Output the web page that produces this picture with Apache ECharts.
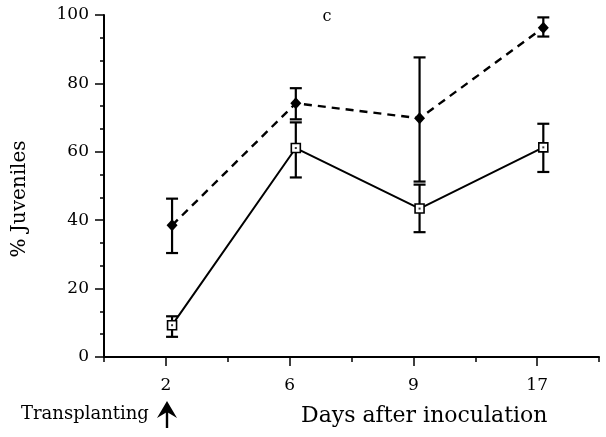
<!DOCTYPE html>
<html>
<head>
<meta charset="utf-8">
<script src="https://cdn.jsdelivr.net/npm/echarts@6/dist/echarts.min.js"></script>
<style>
html,body{margin:0;padding:0;background:#fff;}
#chart{width:606px;height:437px;}
</style>
</head>
<body>
<div id="chart"></div>
<script>
// ---- data ----
var days = ['2', '6', '9', '17'];
var dashedMean = [38.5, 74.2, 69.8, 96.3];
var dashedLow  = [30.4, 69.5, 51.3, 93.7];
var dashedHigh = [46.3, 78.6, 87.6, 99.3];
var solidMean  = [9.3, 61.1, 43.4, 61.3];
var solidLow   = [5.9, 52.5, 36.5, 54.1];
var solidHigh  = [11.9, 68.6, 50.4, 68.2];
var yTicks = [0, 20, 40, 60, 80, 100];

var FONT = 'DejaVu Serif';

function pts(arr) { return arr.map(function (v, i) { return [i, v]; }); }
function errData(lo, hi) { return lo.map(function (v, i) { return [i, v, hi[i]]; }); }

function errRender(params, api) {
  var x = api.value(0);
  var lo = api.coord([x, api.value(1)]);
  var hi = api.coord([x, api.value(2)]);
  var w = 6;
  var st = { stroke: '#000', lineWidth: 2.2 };
  return {
    type: 'group',
    children: [
      { type: 'line', shape: { x1: lo[0], y1: lo[1], x2: hi[0], y2: hi[1] }, style: st },
      { type: 'line', shape: { x1: lo[0] - w, y1: lo[1], x2: lo[0] + w, y2: lo[1] }, style: st },
      { type: 'line', shape: { x1: hi[0] - w, y1: hi[1], x2: hi[0] + w, y2: hi[1] }, style: st }
    ]
  };
}

var chart = echarts.init(document.getElementById('chart'));
chart.setOption({
  animation: false,
  backgroundColor: '#fff',
  grid: { left: 104, right: 7, top: 15, bottom: 80, containLabel: false },
  xAxis: [
    {
      type: 'category', data: days, boundaryGap: true, position: 'bottom',
      axisLine: { onZero: false, lineStyle: { color: '#000', width: 2 } },
      axisTick: { show: true, length: 5, lineStyle: { color: '#000', width: 1.5 } },
      axisLabel: { color: '#000', fontFamily: FONT, fontSize: 17, margin: 20 },
      splitLine: { show: false }
    },
    {
      type: 'category', data: days, boundaryGap: true, position: 'bottom',
      axisLine: { show: false, onZero: false },
      axisTick: { show: true, alignWithLabel: true, length: 9, lineStyle: { color: '#000', width: 1.5 } },
      axisLabel: { show: false },
      splitLine: { show: false }
    },
    {
      type: 'value', min: -0.55, max: 3.45, show: false, position: 'bottom',
      axisLine: { onZero: false }
    }
  ],
  yAxis: {
    type: 'value', min: 0, max: 100, interval: 20, position: 'left',
    axisLine: { show: true, onZero: false, lineStyle: { color: '#000', width: 2 } },
    axisTick: { show: true, length: 9, lineStyle: { color: '#000', width: 1.5 } },
    minorTick: { show: true, splitNumber: 3, length: 4, lineStyle: { color: '#000', width: 1.5 } },
    axisLabel: {
      color: '#000', fontFamily: FONT, fontSize: 17, margin: 15,
      formatter: function (v) { return yTicks.indexOf(v) >= 0 ? String(v) : ''; }
    },
    splitLine: { show: false }
  },
  series: [
    {
      type: 'custom', xAxisIndex: 2, renderItem: errRender,
      data: errData(dashedLow, dashedHigh), z: 1, silent: true
    },
    {
      type: 'custom', xAxisIndex: 2, renderItem: errRender,
      data: errData(solidLow, solidHigh), z: 1, silent: true
    },
    {
      type: 'line', xAxisIndex: 2, data: pts(solidMean), z: 3,
      lineStyle: { color: '#000', width: 2 },
      symbol: 'rect', symbolSize: 9,
      itemStyle: { color: '#fff', borderColor: '#000', borderWidth: 1.6 }
    },
    {
      type: 'scatter', xAxisIndex: 2, data: pts(solidMean), z: 4,
      symbol: 'rect', symbolSize: 2, itemStyle: { color: '#000' }
    },
    {
      type: 'line', xAxisIndex: 2, data: pts(dashedMean), z: 3,
      lineStyle: { color: '#000', width: 2.4, type: [8, 6] },
      symbol: 'diamond', symbolSize: [11, 12],
      itemStyle: { color: '#000' }
    }
  ],
  graphic: [
    { type: 'text', x: 327, y: 17, style: { text: 'c', fontFamily: FONT, fontSize: 16, fill: '#000', textAlign: 'center', textVerticalAlign: 'middle' } },
    { type: 'text', x: 20, y: 199, rotation: Math.PI / 2, style: { text: '% Juveniles', fontFamily: FONT, fontSize: 20, fill: '#000', textAlign: 'center', textVerticalAlign: 'middle' } },
    { type: 'text', x: 21, y: 414, style: { text: 'Transplanting', fontFamily: FONT, fontSize: 18, fill: '#000', textAlign: 'left', textVerticalAlign: 'middle' } },
    { type: 'text', x: 301, y: 416, style: { text: 'Days after inoculation', fontFamily: FONT, fontSize: 22, fill: '#000', textAlign: 'left', textVerticalAlign: 'middle' } },
    { type: 'polygon', shape: { points: [[167, 401], [157, 418], [167, 412], [177, 418]] }, style: { fill: '#000' } },
    { type: 'line', shape: { x1: 167, y1: 410, x2: 167, y2: 428 }, style: { stroke: '#000', lineWidth: 2.4 } }
  ]
});
</script>
</body>
</html>
